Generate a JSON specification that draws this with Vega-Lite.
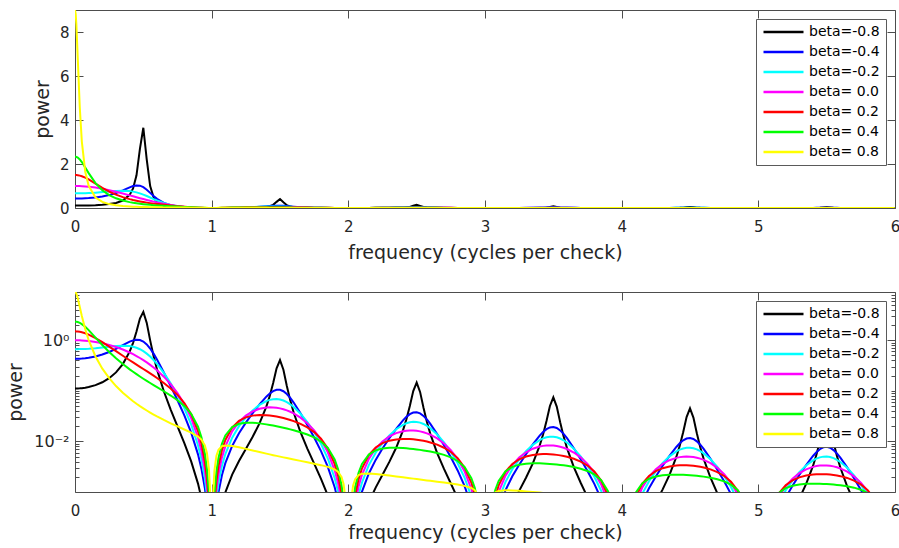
{
  "$schema": "https://vega.github.io/schema/vega-lite/v6.json",
  "background": "white",
  "padding": {"left": 6, "top": 6, "right": 0, "bottom": 0},
  "autosize": {"type": "pad"},
  "bounds": "flush",
  "spacing": 84,
  "config": {
    "font": "DejaVu Sans",
    "view": {"stroke": "#4d4d4d", "strokeWidth": 1},
    "axis": {
      "labelFont": "DejaVu Sans", "labelFontSize": 15, "labelColor": "#262626",
      "titleFont": "DejaVu Sans", "titleFontSize": 19, "titleFontWeight": "normal", "titleColor": "#262626",
      "tickColor": "#4d4d4d", "tickWidth": 1, "domain": false, "grid": false,
      "labelOverlap": false, "labelFlush": false, "labelBound": false
    },
    "legend": {
      "orient": "top-right", "offset": 9, "title": null,
      "symbolType": "stroke", "symbolSize": 1600, "symbolStrokeWidth": 2.5,
      "labelFont": "DejaVu Sans", "labelFontSize": 14, "labelColor": "#000000",
      "fillColor": "white", "strokeColor": "#5a5a5a", "padding": 6, "rowPadding": 6, "labelOffset": 4,
      "clipHeight": 14
    }
  },
  "data": {"values": [
    {"f":0,"bm08":0.11111,"bm04":0.42857,"bm02":0.66667,"b00":1,"bp02":1.5,"bp04":2.3333,"bp08":9},
    {"f":0.005,"bm08":0.11113,"bm04":0.42863,"bm02":0.6667,"b00":0.99992,"bp02":1.4994,"bp04":2.3306,"bp08":8.8251},
    {"f":0.01,"bm08":0.11118,"bm04":0.42878,"bm02":0.66682,"b00":0.99967,"bp02":1.4977,"bp04":2.3224,"bp08":8.3389},
    {"f":0.02,"bm08":0.1114,"bm04":0.42939,"bm02":0.66725,"b00":0.99869,"bp02":1.4907,"bp04":2.2901,"bp08":6.833},
    {"f":0.035,"bm08":0.112,"bm04":0.43109,"bm02":0.66847,"b00":0.99599,"bp02":1.4718,"bp04":2.2059,"bp08":4.5657},
    {"f":0.05,"bm08":0.11293,"bm04":0.43372,"bm02":0.67032,"b00":0.9918,"bp02":1.4435,"bp04":2.0872,"bp08":3.0179},
    {"f":0.075,"bm08":0.11528,"bm04":0.44029,"bm02":0.67485,"b00":0.98163,"bp02":1.3785,"bp04":1.8439,"bp08":1.6483},
    {"f":0.1,"bm08":0.1187,"bm04":0.44971,"bm02":0.68115,"b00":0.96753,"bp02":1.2965,"bp04":1.5849,"bp08":1.0079},
    {"f":0.15,"bm08":0.12948,"bm04":0.47822,"bm02":0.69876,"b00":0.92813,"bp02":1.107,"bp04":1.1303,"bp08":0.47764},
    {"f":0.2,"bm08":0.14761,"bm04":0.5224,"bm02":0.72203,"b00":0.87515,"bp02":0.9168,"bp04":0.80538,"bp08":0.27503},
    {"f":0.25,"bm08":0.17794,"bm04":0.58698,"bm02":0.74822,"b00":0.81058,"bp02":0.74822,"bp04":0.58698,"bp08":0.17794},
    {"f":0.3,"bm08":0.23156,"bm04":0.67809,"bm02":0.77191,"b00":0.73684,"bp02":0.60791,"bp04":0.43984,"bp08":0.12428},
    {"f":0.35,"bm08":0.33792,"bm04":0.79965,"bm02":0.78318,"b00":0.65664,"bp02":0.49437,"bp04":0.33834,"bp08":0.091608},
    {"f":0.4,"bm08":0.5967,"bm04":0.93829,"bm02":0.76756,"b00":0.57279,"bp02":0.40325,"bp04":0.26623,"bp08":0.070269},
    {"f":0.425,"bm08":0.89061,"bm04":0.99626,"bm02":0.74483,"b00":0.53038,"bp02":0.36463,"bp04":0.23789,"bp08":0.062284},
    {"f":0.45,"bm08":1.4853,"bm04":1.0272,"bm02":0.71043,"b00":0.48811,"bp02":0.32989,"bp04":0.21345,"bp08":0.055575},
    {"f":0.475,"bm08":2.6913,"bm04":1.0136,"bm02":0.66434,"b00":0.4463,"bp02":0.29856,"bp04":0.19224,"bp08":0.049893},
    {"f":0.5,"bm08":3.6476,"bm04":0.94566,"bm02":0.60793,"b00":0.40528,"bp02":0.27019,"bp04":0.17369,"bp08":0.045032},
    {"f":0.525,"bm08":2.2031,"bm04":0.82976,"bm02":0.54383,"b00":0.36534,"bp02":0.2444,"bp04":0.15737,"bp08":0.040842},
    {"f":0.55,"bm08":0.99426,"bm04":0.68763,"bm02":0.47558,"b00":0.32675,"bp02":0.22084,"bp04":0.14289,"bp08":0.037203},
    {"f":0.575,"bm08":0.48655,"bm04":0.54427,"bm02":0.40691,"b00":0.28975,"bp02":0.1992,"bp04":0.12996,"bp08":0.034026},
    {"f":0.6,"bm08":0.2652,"bm04":0.41702,"bm02":0.34114,"b00":0.25457,"bp02":0.17922,"bp04":0.11833,"bp08":0.031231},
    {"f":0.65,"bm08":0.097976,"bm04":0.23185,"bm02":0.22708,"b00":0.19039,"bp02":0.14334,"bp04":0.098099,"bp08":0.026561},
    {"f":0.7,"bm08":0.042531,"bm04":0.12455,"bm02":0.14178,"b00":0.13534,"bp02":0.11166,"bp04":0.080788,"bp08":0.022827},
    {"f":0.75,"bm08":0.019771,"bm04":0.06522,"bm02":0.083136,"b00":0.090064,"bp02":0.083136,"bp04":0.06522,"bp08":0.019771},
    {"f":0.8,"bm08":0.0092255,"bm04":0.03265,"bm02":0.045127,"b00":0.054697,"bp02":0.0573,"bp04":0.050336,"bp08":0.017189},
    {"f":0.85,"bm08":0.0040324,"bm04":0.014893,"bm02":0.021761,"b00":0.028904,"bp02":0.034475,"bp04":0.035198,"bp08":0.014875},
    {"f":0.9,"bm08":0.0014654,"bm04":0.005552,"bm02":0.0084093,"b00":0.011945,"bp02":0.016006,"bp04":0.019567,"bp08":0.012443},
    {"f":0.925,"bm08":7.5783e-4,"bm04":0.0028945,"bm02":0.0044366,"b00":0.0064534,"bp02":0.0090627,"bp04":0.012122,"bp08":0.010837},
    {"f":0.95,"bm08":3.1282e-4,"bm04":0.0012014,"bm02":0.0018569,"b00":0.0027474,"bp02":0.0039988,"bp04":0.0057817,"bp08":0.0083599},
    {"f":0.965,"bm08":1.4733e-4,"bm04":5.6708e-4,"bm02":8.7935e-4,"b00":0.0013102,"bp02":0.0019362,"bp04":0.0029019,"bp08":0.0060059},
    {"f":0.98,"bm08":4.6395e-5,"bm04":1.7883e-4,"bm02":2.779e-4,"b00":4.1594e-4,"bp02":6.2086e-4,"bp04":9.5382e-4,"bp08":0.0028459},
    {"f":0.99,"bm08":1.1344e-5,"bm04":4.3747e-5,"bm02":6.8035e-5,"b00":1.02e-4,"bp02":1.5281e-4,"bp04":2.3696e-4,"bp08":8.5082e-4},
    {"f":0.997,"bm08":1.0e-6,"bm04":3.9e-6,"bm02":6.0e-6,"b00":9.1e-6,"bp02":1.36e-5,"bp04":2.1e-5,"bp08":8.1e-5},
    {"f":1.003,"bm08":1.0e-6,"bm04":3.8e-6,"bm02":6.0e-6,"b00":8.9e-6,"bp02":1.34e-5,"bp04":2.1e-5,"bp08":8.0e-5},
    {"f":1.01,"bm08":1.0899e-5,"bm04":4.2032e-5,"bm02":6.5367e-5,"b00":9.7997e-5,"bp02":1.4682e-4,"bp04":2.2766e-4,"bp08":8.1746e-4},
    {"f":1.02,"bm08":4.2827e-5,"bm04":1.6508e-4,"bm02":2.5654e-4,"b00":3.8396e-4,"bp02":5.7312e-4,"bp04":8.8048e-4,"bp08":0.0026271},
    {"f":1.035,"bm08":1.2808e-4,"bm04":4.9297e-4,"bm02":7.6442e-4,"b00":0.001139,"bp02":0.0016831,"bp04":0.0025226,"bp08":0.005221},
    {"f":1.05,"bm08":2.5607e-4,"bm04":9.8349e-4,"bm02":0.00152,"b00":0.002249,"bp02":0.0032734,"bp04":0.0047329,"bp08":0.0068434},
    {"f":1.075,"bm08":5.611e-4,"bm04":0.0021431,"bm02":0.0032849,"b00":0.0047781,"bp02":0.0067101,"bp04":0.0089752,"bp08":0.0080234},
    {"f":1.1,"bm08":9.8099e-4,"bm04":0.0037166,"bm02":0.0056294,"b00":0.0079961,"bp02":0.010715,"bp04":0.013098,"bp08":0.0083298},
    {"f":1.15,"bm08":0.002203,"bm04":0.0081361,"bm02":0.011888,"b00":0.015791,"bp02":0.018834,"bp04":0.01923,"bp08":0.0081263},
    {"f":1.2,"bm08":0.0041002,"bm04":0.014511,"bm02":0.020056,"b00":0.02431,"bp02":0.025467,"bp04":0.022372,"bp08":0.0076396},
    {"f":1.25,"bm08":0.0071174,"bm04":0.023479,"bm02":0.029929,"b00":0.032423,"bp02":0.029929,"bp04":0.023479,"bp08":0.0071174},
    {"f":1.3,"bm08":0.012331,"bm04":0.036111,"bm02":0.041108,"b00":0.03924,"bp02":0.032374,"bp04":0.023424,"bp08":0.0066183},
    {"f":1.35,"bm08":0.022714,"bm04":0.053749,"bm02":0.052642,"b00":0.044136,"bp02":0.033229,"bp04":0.022742,"bp08":0.0061575},
    {"f":1.4,"bm08":0.04871,"bm04":0.076595,"bm02":0.062658,"b00":0.046758,"bp02":0.032918,"bp04":0.021733,"bp08":0.0057362},
    {"f":1.425,"bm08":0.07922,"bm04":0.088617,"bm02":0.066253,"b00":0.047178,"bp02":0.032434,"bp04":0.02116,"bp08":0.0055402},
    {"f":1.45,"bm08":0.14305,"bm04":0.098934,"bm02":0.068424,"b00":0.047012,"bp02":0.031773,"bp04":0.020558,"bp08":0.0053527},
    {"f":1.475,"bm08":0.27911,"bm04":0.10512,"bm02":0.068896,"b00":0.046284,"bp02":0.030962,"bp04":0.019936,"bp08":0.0051742},
    {"f":1.5,"bm08":0.40528,"bm04":0.10507,"bm02":0.067548,"b00":0.045032,"bp02":0.030021,"bp04":0.019299,"bp08":0.0050036},
    {"f":1.525,"bm08":0.2611,"bm04":0.09834,"bm02":0.064452,"b00":0.043299,"bp02":0.028965,"bp04":0.018651,"bp08":0.0048404},
    {"f":1.55,"bm08":0.12519,"bm04":0.08658,"bm02":0.05988,"b00":0.041141,"bp02":0.027806,"bp04":0.017991,"bp08":0.0046843},
    {"f":1.575,"bm08":0.064849,"bm04":0.072542,"bm02":0.054234,"b00":0.038619,"bp02":0.02655,"bp04":0.017322,"bp08":0.0045351},
    {"f":1.6,"bm08":0.037294,"bm04":0.058643,"bm02":0.047973,"b00":0.035799,"bp02":0.025203,"bp04":0.016639,"bp08":0.0043918},
    {"f":1.65,"bm08":0.015205,"bm04":0.035981,"bm02":0.03524,"b00":0.029546,"bp02":0.022244,"bp04":0.015224,"bp08":0.004122},
    {"f":1.7,"bm08":0.0072111,"bm04":0.021117,"bm02":0.024039,"b00":0.022947,"bp02":0.018932,"bp04":0.013698,"bp08":0.0038703},
    {"f":1.75,"bm08":0.0036314,"bm04":0.011979,"bm02":0.01527,"b00":0.016542,"bp02":0.01527,"bp04":0.011979,"bp08":0.0036314},
    {"f":1.8,"bm08":0.0018223,"bm04":0.0064494,"bm02":0.0089139,"b00":0.010804,"bp02":0.011319,"bp04":0.0099429,"bp08":0.0033954},
    {"f":1.85,"bm08":8.5125e-4,"bm04":0.0031439,"bm02":0.0045937,"b00":0.0061017,"bp02":0.0072777,"bp04":0.0074305,"bp08":0.0031401},
    {"f":1.9,"bm08":3.2881e-4,"bm04":0.0012457,"bm02":0.0018868,"b00":0.0026801,"bp02":0.0035914,"bp04":0.0043903,"bp08":0.002792},
    {"f":1.925,"bm08":1.7498e-4,"bm04":6.6834e-4,"bm02":0.0010244,"b00":0.0014901,"bp02":0.0020926,"bp04":0.002799,"bp08":0.0025021},
    {"f":1.95,"bm08":7.4246e-5,"bm04":2.8515e-4,"bm02":4.4071e-4,"b00":6.5207e-4,"bp02":9.4909e-4,"bp04":0.0013723,"bp08":0.0019842},
    {"f":1.965,"bm08":3.5533e-5,"bm04":1.3677e-4,"bm02":2.1207e-4,"b00":3.1599e-4,"bp02":4.6695e-4,"bp04":6.9985e-4,"bp08":0.0014485},
    {"f":1.98,"bm08":1.1366e-5,"bm04":4.3809e-5,"bm02":6.808e-5,"b00":1.019e-4,"bp02":1.5209e-4,"bp04":2.3366e-4,"bp08":6.9718e-4},
    {"f":1.99,"bm08":2.8075e-6,"bm04":1.0827e-5,"bm02":1.6838e-5,"b00":2.5244e-5,"bp02":3.782e-5,"bp04":5.8645e-5,"bp08":2.1057e-4},
    {"f":1.997,"bm08":2.5e-7,"bm04":9.7e-7,"bm02":1.5e-6,"b00":2.3e-6,"bp02":3.4e-6,"bp04":5.3e-6,"bp08":2.0e-5},
    {"f":2.003,"bm08":2.5e-7,"bm04":9.6e-7,"bm02":1.5e-6,"b00":2.2e-6,"bp02":3.4e-6,"bp04":5.2e-6,"bp08":2.0e-5},
    {"f":2.01,"bm08":2.7519e-6,"bm04":1.0613e-5,"bm02":1.6505e-5,"b00":2.4744e-5,"bp02":3.7071e-5,"bp04":5.7484e-5,"bp08":2.064e-4},
    {"f":2.02,"bm08":1.092e-5,"bm04":4.2091e-5,"bm02":6.541e-5,"b00":9.79e-5,"bp02":1.4613e-4,"bp04":2.245e-4,"bp08":6.6984e-4},
    {"f":2.035,"bm08":3.313e-5,"bm04":1.2752e-4,"bm02":1.9773e-4,"b00":2.9462e-4,"bp02":4.3537e-4,"bp04":6.5253e-4,"bp08":0.0013505},
    {"f":2.05,"bm08":6.7179e-5,"bm04":2.5801e-4,"bm02":3.9876e-4,"b00":5.9001e-4,"bp02":8.5875e-4,"bp04":0.0012416,"bp08":0.0017953},
    {"f":2.075,"bm08":1.506e-4,"bm04":5.752e-4,"bm02":8.8166e-4,"b00":0.0012824,"bp02":0.001801,"bp04":0.0024089,"bp08":0.0021535},
    {"f":2.1,"bm08":2.6916e-4,"bm04":0.0010197,"bm02":0.0015445,"b00":0.0021939,"bp02":0.0029399,"bp04":0.0035939,"bp08":0.0022855},
    {"f":2.15,"bm08":6.3027e-4,"bm04":0.0023277,"bm02":0.0034012,"b00":0.0045177,"bp02":0.0053884,"bp04":0.0055016,"bp08":0.0023249},
    {"f":2.2,"bm08":0.0012199,"bm04":0.0043174,"bm02":0.0059672,"b00":0.0072327,"bp02":0.0075769,"bp04":0.006656,"bp08":0.0022729},
    {"f":2.25,"bm08":0.0021967,"bm04":0.0072466,"bm02":0.0092373,"b00":0.010007,"bp02":0.0092373,"bp04":0.0072466,"bp08":0.0021967},
    {"f":2.3,"bm08":0.0039395,"bm04":0.011537,"bm02":0.013133,"b00":0.012536,"bp02":0.010343,"bp04":0.0074832,"bp08":0.0021144},
    {"f":2.35,"bm08":0.0074957,"bm04":0.017738,"bm02":0.017373,"b00":0.014566,"bp02":0.010966,"bp04":0.0075051,"bp08":0.0020321},
    {"f":2.4,"bm08":0.016575,"bm04":0.026064,"bm02":0.021321,"b00":0.015911,"bp02":0.011202,"bp04":0.0073953,"bp08":0.0019519},
    {"f":2.425,"bm08":0.027355,"bm04":0.0306,"bm02":0.022878,"b00":0.016291,"bp02":0.0112,"bp04":0.0073069,"bp08":0.0019131},
    {"f":2.45,"bm08":0.050106,"bm04":0.034653,"bm02":0.023967,"b00":0.016467,"bp02":0.011129,"bp04":0.007201,"bp08":0.0018749},
    {"f":2.475,"bm08":0.099128,"bm04":0.037335,"bm02":0.02447,"b00":0.016438,"bp02":0.010997,"bp04":0.0070807,"bp08":0.0018377},
    {"f":2.5,"bm08":0.1459,"bm04":0.037827,"bm02":0.024317,"b00":0.016211,"bp02":0.010808,"bp04":0.0069477,"bp08":0.0018013},
    {"f":2.525,"bm08":0.095243,"bm04":0.035871,"bm02":0.02351,"b00":0.015794,"bp02":0.010566,"bp04":0.0068032,"bp08":0.0017656},
    {"f":2.55,"bm08":0.046254,"bm04":0.031989,"bm02":0.022124,"b00":0.015201,"bp02":0.010273,"bp04":0.0066473,"bp08":0.0017307},
    {"f":2.575,"bm08":0.024261,"bm04":0.027139,"bm02":0.02029,"b00":0.014448,"bp02":0.0099328,"bp04":0.0064804,"bp08":0.0016967},
    {"f":2.6,"bm08":0.014123,"bm04":0.022208,"bm02":0.018167,"b00":0.013557,"bp02":0.0095444,"bp04":0.0063013,"bp08":0.0016632},
    {"f":2.65,"bm08":0.0058946,"bm04":0.013949,"bm02":0.013662,"b00":0.011454,"bp02":0.0086237,"bp04":0.005902,"bp08":0.001598},
    {"f":2.7,"bm08":0.0028587,"bm04":0.0083713,"bm02":0.0095297,"b00":0.0090968,"bp02":0.0075051,"bp04":0.0054302,"bp08":0.0015343},
    {"f":2.75,"bm08":0.0014706,"bm04":0.004851,"bm02":0.0061837,"b00":0.006699,"bp02":0.0061837,"bp04":0.004851,"bp08":0.0014706},
    {"f":2.8,"bm08":7.531e-4,"bm04":0.0026653,"bm02":0.0036838,"b00":0.004465,"bp02":0.0046776,"bp04":0.0041091,"bp08":0.0014032},
    {"f":2.85,"bm08":3.5868e-4,"bm04":0.0013247,"bm02":0.0019356,"b00":0.002571,"bp02":0.0030666,"bp04":0.003131,"bp08":0.0013231},
    {"f":2.9,"bm08":1.4114e-4,"bm04":5.3473e-4,"bm02":8.0993e-4,"b00":0.0011505,"bp02":0.0015416,"bp04":0.0018845,"bp08":0.0011985},
    {"f":2.925,"bm08":7.5789e-5,"bm04":2.8947e-4,"bm02":4.437e-4,"b00":6.4539e-4,"bp02":9.0634e-4,"bp04":0.0012123,"bp08":0.0010837},
    {"f":2.95,"bm08":3.2441e-5,"bm04":1.246e-4,"bm02":1.9257e-4,"b00":2.8492e-4,"bp02":4.147e-4,"bp04":5.996e-4,"bp08":8.6697e-4},
    {"f":2.965,"bm08":1.5607e-5,"bm04":6.0069e-5,"bm02":9.3146e-5,"b00":1.3879e-4,"bp02":2.0509e-4,"bp04":3.0739e-4,"bp08":6.3619e-4},
    {"f":2.98,"bm08":5.0176e-6,"bm04":1.934e-5,"bm02":3.0055e-5,"b00":4.4983e-5,"bp02":6.7145e-5,"bp04":1.0316e-4,"bp08":3.0778e-4},
    {"f":2.99,"bm08":1.2436e-6,"bm04":4.796e-6,"bm02":7.4587e-6,"b00":1.1182e-5,"bp02":1.6753e-5,"bp04":2.5977e-5,"bp08":9.3276e-5},
    {"f":2.997,"bm08":1.1e-7,"bm04":4.3e-7,"bm02":6.7e-7,"b00":1.0e-6,"bp02":1.5e-6,"bp04":2.3e-6,"bp08":9.0e-6},
    {"f":3.003,"bm08":1.1e-7,"bm04":4.3e-7,"bm02":6.7e-7,"b00":1.0e-6,"bp02":1.5e-6,"bp04":2.3e-6,"bp08":8.9e-6},
    {"f":3.01,"bm08":1.2271e-6,"bm04":4.7325e-6,"bm02":7.3598e-6,"b00":1.1034e-5,"bp02":1.6531e-5,"bp04":2.5633e-5,"bp08":9.204e-5},
    {"f":3.02,"bm08":4.8855e-6,"bm04":1.8831e-5,"bm02":2.9264e-5,"b00":4.3799e-5,"bp02":6.5377e-5,"bp04":1.0044e-4,"bp08":2.9968e-4},
    {"f":3.035,"bm08":1.4895e-5,"bm04":5.733e-5,"bm02":8.8899e-5,"b00":1.3246e-4,"bp02":1.9574e-4,"bp04":2.9337e-4,"bp08":6.0718e-4},
    {"f":3.05,"bm08":3.0349e-5,"bm04":1.1656e-4,"bm02":1.8015e-4,"b00":2.6654e-4,"bp02":3.8795e-4,"bp04":5.6092e-4,"bp08":8.1105e-4},
    {"f":3.075,"bm08":6.8576e-5,"bm04":2.6192e-4,"bm02":4.0147e-4,"b00":5.8396e-4,"bp02":8.2008e-4,"bp04":0.0010969,"bp08":9.8059e-4},
    {"f":3.1,"bm08":1.2352e-4,"bm04":4.6796e-4,"bm02":7.0879e-4,"b00":0.0010068,"bp02":0.0013491,"bp04":0.0016492,"bp08":0.0010488},
    {"f":3.15,"bm08":2.9362e-4,"bm04":0.0010844,"bm02":0.0015845,"b00":0.0021046,"bp02":0.0025103,"bp04":0.002563,"bp08":0.0010831},
    {"f":3.2,"bm08":5.7659e-4,"bm04":0.0020406,"bm02":0.0028204,"b00":0.0034185,"bp02":0.0035812,"bp04":0.003146,"bp08":0.0010743},
    {"f":3.25,"bm08":0.0010529,"bm04":0.0034732,"bm02":0.0044274,"b00":0.0047963,"bp02":0.0044274,"bp04":0.0034732,"bp08":0.0010529},
    {"f":3.3,"bm08":0.0019137,"bm04":0.005604,"bm02":0.0063794,"b00":0.0060896,"bp02":0.005024,"bp04":0.0036351,"bp08":0.0010271},
    {"f":3.35,"bm08":0.0036886,"bm04":0.0087287,"bm02":0.0085489,"b00":0.0071676,"bp02":0.0053963,"bp04":0.0036932,"bp08":9.9996e-4},
    {"f":3.4,"bm08":0.0082588,"bm04":0.012987,"bm02":0.010624,"b00":0.0079278,"bp02":0.0055813,"bp04":0.0036849,"bp08":9.7258e-4},
    {"f":3.425,"bm08":0.013713,"bm04":0.01534,"bm02":0.011469,"b00":0.0081667,"bp02":0.0056145,"bp04":0.003663,"bp08":9.5903e-4},
    {"f":3.45,"bm08":0.025269,"bm04":0.017476,"bm02":0.012087,"b00":0.0083043,"bp02":0.0056125,"bp04":0.0036315,"bp08":9.4552e-4},
    {"f":3.475,"bm08":0.050286,"bm04":0.018939,"bm02":0.012413,"b00":0.0083389,"bp02":0.0055784,"bp04":0.0035919,"bp08":9.3222e-4},
    {"f":3.5,"bm08":0.07444,"bm04":0.019299,"bm02":0.012407,"b00":0.0082711,"bp02":0.0055141,"bp04":0.0035448,"bp08":9.1902e-4},
    {"f":3.525,"bm08":0.048869,"bm04":0.018406,"bm02":0.012063,"b00":0.008104,"bp02":0.0054212,"bp04":0.0034907,"bp08":9.0595e-4},
    {"f":3.55,"bm08":0.023865,"bm04":0.016505,"bm02":0.011415,"b00":0.007843,"bp02":0.0053007,"bp04":0.0034298,"bp08":8.9299e-4},
    {"f":3.575,"bm08":0.012587,"bm04":0.01408,"bm02":0.010526,"b00":0.0074957,"bp02":0.0051532,"bp04":0.003362,"bp08":8.8023e-4},
    {"f":3.6,"bm08":0.0073666,"bm04":0.011584,"bm02":0.009476,"b00":0.0070714,"bp02":0.0049784,"bp04":0.0032868,"bp08":8.6751e-4},
    {"f":3.65,"bm08":0.0031072,"bm04":0.0073528,"bm02":0.0072014,"b00":0.0060378,"bp02":0.0045457,"bp04":0.0031111,"bp08":8.4233e-4},
    {"f":3.7,"bm08":0.0015223,"bm04":0.0044578,"bm02":0.0050747,"b00":0.0048441,"bp02":0.0039965,"bp04":0.0028916,"bp08":8.1702e-4},
    {"f":3.75,"bm08":7.9083e-4,"bm04":0.0026088,"bm02":0.0033254,"b00":0.0036025,"bp02":0.0033254,"bp04":0.0026088,"bp08":7.9083e-4},
    {"f":3.8,"bm08":4.0888e-4,"bm04":0.0014471,"bm02":0.0020001,"b00":0.0024242,"bp02":0.0025396,"bp04":0.002231,"bp08":7.6184e-4},
    {"f":3.85,"bm08":1.9655e-4,"bm04":7.2592e-4,"bm02":0.0010607,"b00":0.0014089,"bp02":0.0016804,"bp04":0.0017157,"bp08":7.2505e-4},
    {"f":3.9,"bm08":7.804e-5,"bm04":2.9566e-4,"bm02":4.4783e-4,"b00":6.3611e-4,"bp02":8.524e-4,"bp04":0.001042,"bp08":6.6265e-4},
    {"f":3.925,"bm08":4.209e-5,"bm04":1.6076e-4,"bm02":2.4641e-4,"b00":3.5842e-4,"bp02":5.0334e-4,"bp04":6.7326e-4,"bp08":6.0186e-4},
    {"f":3.95,"bm08":1.8094e-5,"bm04":6.9495e-5,"bm02":1.0741e-4,"b00":1.5892e-4,"bp02":2.313e-4,"bp04":3.3443e-4,"bp08":4.8356e-4},
    {"f":3.965,"bm08":8.727e-6,"bm04":3.359e-5,"bm02":5.2087e-5,"b00":7.7608e-5,"bp02":1.1468e-4,"bp04":1.7189e-4,"bp08":3.5575e-4},
    {"f":3.98,"bm08":2.813e-6,"bm04":1.0843e-5,"bm02":1.6849e-5,"b00":2.5219e-5,"bp02":3.7643e-5,"bp04":5.783e-5,"bp08":1.7255e-4},
    {"f":3.99,"bm08":6.9837e-7,"bm04":2.6933e-6,"bm02":4.1885e-6,"b00":6.2794e-6,"bp02":9.4077e-6,"bp04":1.4588e-5,"bp08":5.238e-5},
    {"f":3.997,"bm08":6.3e-8,"bm04":2.4e-7,"bm02":3.8e-7,"b00":5.6e-7,"bp02":8.5e-7,"bp04":1.3e-6,"bp08":5.0e-6},
    {"f":4.003,"bm08":6.2e-8,"bm04":2.4e-7,"bm02":3.7e-7,"b00":5.6e-7,"bp02":8.4e-7,"bp04":1.3e-6,"bp08":5.0e-6},
    {"f":4.01,"bm08":6.9142e-7,"bm04":2.6665e-6,"bm02":4.1468e-6,"b00":6.2169e-6,"bp02":9.314e-6,"bp04":1.4443e-5,"bp08":5.1859e-5},
    {"f":4.02,"bm08":2.7573e-6,"bm04":1.0628e-5,"bm02":1.6516e-5,"b00":2.4719e-5,"bp02":3.6897e-5,"bp04":5.6685e-5,"bp08":1.6913e-4},
    {"f":4.035,"bm08":8.4268e-6,"bm04":3.2435e-5,"bm02":5.0295e-5,"b00":7.4939e-5,"bp02":1.1074e-4,"bp04":1.6597e-4,"bp08":3.4352e-4},
    {"f":4.05,"bm08":1.7212e-5,"bm04":6.6105e-5,"bm02":1.0217e-4,"b00":1.5117e-4,"bp02":2.2002e-4,"bp04":3.1812e-4,"bp08":4.5998e-4},
    {"f":4.075,"bm08":3.9049e-5,"bm04":1.4914e-4,"bm02":2.2861e-4,"b00":3.3252e-4,"bp02":4.6697e-4,"bp04":6.2461e-4,"bp08":5.5837e-4},
    {"f":4.1,"bm08":7.0612e-5,"bm04":2.6752e-4,"bm02":4.052e-4,"b00":5.7556e-4,"bp02":7.7126e-4,"bp04":9.4283e-4,"bp08":5.9958e-4},
    {"f":4.15,"bm08":1.6916e-4,"bm04":6.2477e-4,"bm02":9.1288e-4,"b00":0.0012126,"bp02":0.0014463,"bp04":0.0014766,"bp08":6.2401e-4},
    {"f":4.2,"bm08":3.3471e-4,"bm04":0.0011846,"bm02":0.0016372,"b00":0.0019845,"bp02":0.0020789,"bp04":0.0018262,"bp08":6.2363e-4},
    {"f":4.25,"bm08":6.1569e-4,"bm04":0.0020311,"bm02":0.002589,"b00":0.0028047,"bp02":0.002589,"bp04":0.0020311,"bp08":6.1569e-4},
    {"f":4.3,"bm08":0.0011271,"bm04":0.0033006,"bm02":0.0037573,"b00":0.0035866,"bp02":0.002959,"bp04":0.0021409,"bp08":6.0492e-4},
    {"f":4.35,"bm08":0.0021876,"bm04":0.0051767,"bm02":0.0050701,"b00":0.0042509,"bp02":0.0032004,"bp04":0.0021904,"bp08":5.9305e-4},
    {"f":4.4,"bm08":0.0049314,"bm04":0.0077545,"bm02":0.0063435,"b00":0.0047338,"bp02":0.0033327,"bp04":0.0022003,"bp08":5.8074e-4},
    {"f":4.425,"bm08":0.0082156,"bm04":0.0091902,"bm02":0.0068708,"b00":0.0048926,"bp02":0.0033636,"bp04":0.0021945,"bp08":5.7455e-4},
    {"f":4.45,"bm08":0.015188,"bm04":0.010504,"bm02":0.0072649,"b00":0.0049914,"bp02":0.0033735,"bp04":0.0021828,"bp08":5.6832e-4},
    {"f":4.475,"bm08":0.030323,"bm04":0.011421,"bm02":0.007485,"b00":0.0050284,"bp02":0.0033638,"bp04":0.0021659,"bp08":5.6213e-4},
    {"f":4.5,"bm08":0.045032,"bm04":0.011675,"bm02":0.0075053,"b00":0.0050035,"bp02":0.0033357,"bp04":0.0021444,"bp08":5.5596e-4},
    {"f":4.525,"bm08":0.029656,"bm04":0.01117,"bm02":0.0073206,"b00":0.0049179,"bp02":0.0032899,"bp04":0.0021183,"bp08":5.4978e-4},
    {"f":4.55,"bm08":0.014528,"bm04":0.010047,"bm02":0.006949,"b00":0.0047744,"bp02":0.0032268,"bp04":0.0020878,"bp08":5.436e-4},
    {"f":4.575,"bm08":0.0076857,"bm04":0.0085974,"bm02":0.0064277,"b00":0.004577,"bp02":0.0031466,"bp04":0.0020529,"bp08":5.3749e-4},
    {"f":4.6,"bm08":0.0045119,"bm04":0.0070948,"bm02":0.0058039,"b00":0.0043311,"bp02":0.0030492,"bp04":0.0020131,"bp08":5.3133e-4},
    {"f":4.65,"bm08":0.0019144,"bm04":0.0045303,"bm02":0.004437,"b00":0.0037201,"bp02":0.0028008,"bp04":0.0019168,"bp08":5.19e-4},
    {"f":4.7,"bm08":9.4341e-4,"bm04":0.0027627,"bm02":0.0031449,"b00":0.0030021,"bp02":0.0024768,"bp04":0.001792,"bp08":5.0634e-4},
    {"f":4.75,"bm08":4.9289e-4,"bm04":0.001626,"bm02":0.0020726,"b00":0.0022453,"bp02":0.0020726,"bp04":0.001626,"bp08":4.9289e-4},
    {"f":4.8,"bm08":2.5626e-4,"bm04":9.0695e-4,"bm02":0.0012535,"b00":0.0015194,"bp02":0.0015917,"bp04":0.0013982,"bp08":4.7748e-4},
    {"f":4.85,"bm08":1.2385e-4,"bm04":4.5743e-4,"bm02":6.6837e-4,"b00":8.8778e-4,"bp02":0.0010589,"bp04":0.0010811,"bp08":4.5688e-4},
    {"f":4.9,"bm08":4.9437e-5,"bm04":1.873e-4,"bm02":2.8369e-4,"b00":4.0297e-4,"bp02":5.3998e-4,"bp04":6.6009e-4,"bp08":4.1978e-4},
    {"f":4.925,"bm08":2.6733e-5,"bm04":1.0211e-4,"bm02":1.5651e-4,"b00":2.2765e-4,"bp02":3.1969e-4,"bp04":4.2762e-4,"bp08":3.8227e-4},
    {"f":4.95,"bm08":1.1522e-5,"bm04":4.4252e-5,"bm02":6.8393e-5,"b00":1.0119e-4,"bp02":1.4729e-4,"bp04":2.1296e-4,"bp08":3.0792e-4},
    {"f":4.965,"bm08":5.5657e-6,"bm04":2.1422e-5,"bm02":3.3218e-5,"b00":4.9495e-5,"bp02":7.3141e-5,"bp04":1.0962e-4,"bp08":2.2688e-4},
    {"f":4.98,"bm08":1.7966e-6,"bm04":6.9253e-6,"bm02":1.0762e-5,"b00":1.6107e-5,"bp02":2.4043e-5,"bp04":3.6937e-5,"bp08":1.1021e-4},
    {"f":4.99,"bm08":4.465e-7,"bm04":1.7219e-6,"bm02":2.6779e-6,"b00":4.0147e-6,"bp02":6.0148e-6,"bp04":9.3268e-6,"bp08":3.3489e-5},
    {"f":4.997,"bm08":4.0e-8,"bm04":1.5e-7,"bm02":2.4e-7,"b00":3.6e-7,"bp02":5.4e-7,"bp04":8.4e-7,"bp08":3.2e-6},
    {"f":5.003,"bm08":4.0e-8,"bm04":1.5e-7,"bm02":2.4e-7,"b00":3.6e-7,"bp02":5.4e-7,"bp04":8.4e-7,"bp08":3.2e-6},
    {"f":5.01,"bm08":4.4294e-7,"bm04":1.7082e-6,"bm02":2.6566e-6,"b00":3.9827e-6,"bp02":5.9668e-6,"bp04":9.2524e-6,"bp08":3.3222e-5},
    {"f":5.02,"bm08":1.7682e-6,"bm04":6.8155e-6,"bm02":1.0591e-5,"b00":1.5852e-5,"bp02":2.3661e-5,"bp04":3.6351e-5,"bp08":1.0846e-4},
    {"f":5.035,"bm08":5.412e-6,"bm04":2.0831e-5,"bm02":3.2301e-5,"b00":4.8128e-5,"bp02":7.1121e-5,"bp04":1.066e-4,"bp08":2.2062e-4},
    {"f":5.05,"bm08":1.107e-5,"bm04":4.2518e-5,"bm02":6.5712e-5,"b00":9.7226e-5,"bp02":1.4151e-4,"bp04":2.0461e-4,"bp08":2.9585e-4},
    {"f":5.075,"bm08":2.5176e-5,"bm04":9.6157e-5,"bm02":1.4739e-4,"b00":2.1439e-4,"bp02":3.0107e-4,"bp04":4.027e-4,"bp08":3.5999e-4},
    {"f":5.1,"bm08":4.5637e-5,"bm04":1.729e-4,"bm02":2.6188e-4,"b00":3.7199e-4,"bp02":4.9847e-4,"bp04":6.0935e-4,"bp08":3.8751e-4},
    {"f":5.15,"bm08":1.0985e-4,"bm04":4.057e-4,"bm02":5.9278e-4,"b00":7.8737e-4,"bp02":9.3913e-4,"bp04":9.5885e-4,"bp08":4.052e-4},
    {"f":5.2,"bm08":2.1835e-4,"bm04":7.7278e-4,"bm02":0.0010681,"b00":0.0012946,"bp02":0.0013562,"bp04":0.0011914,"bp08":4.0684e-4},
    {"f":5.25,"bm08":4.0348e-4,"bm04":0.001331,"bm02":0.0016966,"b00":0.001838,"bp02":0.0016966,"bp04":0.001331,"bp08":4.0348e-4},
    {"f":5.3,"bm08":7.419e-4,"bm04":0.0021726,"bm02":0.0024732,"b00":0.0023608,"bp02":0.0019477,"bp04":0.0014093,"bp08":3.9819e-4},
    {"f":5.35,"bm08":0.0014462,"bm04":0.0034223,"bm02":0.0033518,"b00":0.0028103,"bp02":0.0021158,"bp04":0.001448,"bp08":3.9206e-4},
    {"f":5.4,"bm08":0.0032741,"bm04":0.0051484,"bm02":0.0042116,"b00":0.0031429,"bp02":0.0022126,"bp04":0.0014608,"bp08":3.8557e-4},
    {"f":5.425,"bm08":0.0054659,"bm04":0.0061143,"bm02":0.0045712,"b00":0.0032551,"bp02":0.0022378,"bp04":0.00146,"bp08":3.8225e-4},
    {"f":5.45,"bm08":0.010126,"bm04":0.007003,"bm02":0.0048434,"b00":0.0033277,"bp02":0.0022491,"bp04":0.0014552,"bp08":3.7889e-4},
    {"f":5.475,"bm08":0.020258,"bm04":0.0076297,"bm02":0.0050005,"b00":0.0033593,"bp02":0.0022473,"bp04":0.001447,"bp08":3.7555e-4},
    {"f":5.5,"bm08":0.030145,"bm04":0.0078154,"bm02":0.0050243,"b00":0.0033495,"bp02":0.002233,"bp04":0.0014355,"bp08":3.7217e-4},
    {"f":5.525,"bm08":0.019892,"bm04":0.0074921,"bm02":0.0049103,"b00":0.0032987,"bp02":0.0022067,"bp04":0.0014209,"bp08":3.6877e-4},
    {"f":5.55,"bm08":0.0097643,"bm04":0.006753,"bm02":0.0046705,"b00":0.0032089,"bp02":0.0021688,"bp04":0.0014033,"bp08":3.6536e-4},
    {"f":5.575,"bm08":0.0051757,"bm04":0.0057897,"bm02":0.0043285,"b00":0.0030823,"bp02":0.002119,"bp04":0.0013825,"bp08":3.6196e-4},
    {"f":5.6,"bm08":0.0030444,"bm04":0.0047872,"bm02":0.0039161,"b00":0.0029224,"bp02":0.0020574,"bp04":0.0013583,"bp08":3.5852e-4},
    {"f":5.65,"bm08":0.0012967,"bm04":0.0030686,"bm02":0.0030054,"b00":0.0025198,"bp02":0.0018971,"bp04":0.0012984,"bp08":3.5154e-4},
    {"f":5.7,"bm08":6.4143e-4,"bm04":0.0018784,"bm02":0.0021383,"b00":0.0020411,"bp02":0.001684,"bp04":0.0012184,"bp08":3.4426e-4},
    {"f":5.75,"bm08":3.3637e-4,"bm04":0.0011096,"bm02":0.0014144,"b00":0.0015323,"bp02":0.0014144,"bp04":0.0011096,"bp08":3.3637e-4},
    {"f":5.8,"bm08":1.7552e-4,"bm04":6.2118e-4,"bm02":8.5855e-4,"b00":0.0010406,"bp02":0.0010902,"bp04":9.5766e-4,"bp08":3.2703e-4},
    {"f":5.85,"bm08":8.5132e-5,"bm04":3.1442e-4,"bm02":4.5941e-4,"b00":6.1022e-4,"bp02":7.2784e-4,"bp04":7.4312e-4,"bp08":3.1404e-4},
    {"f":5.9,"bm08":3.4099e-5,"bm04":1.2919e-4,"bm02":1.9567e-4,"b00":2.7795e-4,"bp02":3.7245e-4,"bp04":4.5529e-4,"bp08":2.8954e-4},
    {"f":5.925,"bm08":1.847e-5,"bm04":7.0546e-5,"bm02":1.0813e-4,"b00":1.5729e-4,"bp02":2.2088e-4,"bp04":2.9545e-4,"bp08":2.6411e-4},
    {"f":5.95,"bm08":7.9747e-6,"bm04":3.0628e-5,"bm02":4.7337e-5,"b00":7.0038e-5,"bp02":1.0194e-4,"bp04":1.4739e-4,"bp08":2.1312e-4},
    {"f":5.965,"bm08":3.856e-6,"bm04":1.4842e-5,"bm02":2.3014e-5,"b00":3.4291e-5,"bp02":5.0673e-5,"bp04":7.5948e-5,"bp08":1.5719e-4},
    {"f":5.98,"bm08":1.246e-6,"bm04":4.8028e-6,"bm02":7.4637e-6,"b00":1.1171e-5,"bp02":1.6674e-5,"bp04":2.5617e-5,"bp08":7.6431e-5},
    {"f":5.99,"bm08":3.0987e-7,"bm04":1.195e-6,"bm02":1.8585e-6,"b00":2.7862e-6,"bp02":4.1743e-6,"bp04":6.4728e-6,"bp08":2.3241e-5},
    {"f":5.997,"bm08":2.8e-8,"bm04":1.1e-7,"bm02":1.7e-7,"b00":2.5e-7,"bp02":3.8e-7,"bp04":5.8e-7,"bp08":2.2e-6}
  ]},
  "transform": [
    {"fold": ["bm08", "bm04", "bm02", "b00", "bp02", "bp04", "bp08"], "as": ["series", "power"]}
  ],
  "vconcat": [
    {
      "width": 820,
      "height": 198,
      "layer": [
        {
          "mark": {"type": "line", "strokeWidth": 2, "clip": true},
          "encoding": {
            "x": {"field": "f", "type": "quantitative",
              "scale": {"domain": [0, 6], "nice": false, "zero": false},
              "axis": {"orient": "bottom", "values": [0, 1, 2, 3, 4, 5, 6], "format": "d",
                "title": "frequency (cycles per check)", "tickSize": -8, "labelPadding": 19,
                "titleX": 410, "titleY": 35, "titleBaseline": "top", "titleAlign": "center"}},
            "y": {"field": "power", "type": "quantitative",
              "scale": {"domain": [0, 9], "nice": false},
              "axis": {"orient": "left", "values": [0, 2, 4, 6, 8], "format": "d",
                "title": "power", "tickSize": -8, "labelPadding": 14,
                "titleX": -33, "titleY": 99, "titleAngle": 270, "titleBaseline": "middle", "titleAlign": "center"}},
            "color": {"field": "series", "type": "nominal",
              "scale": {"domain": ["bm08", "bm04", "bm02", "b00", "bp02", "bp04", "bp08"],
                "range": ["#000000", "#0000ff", "#00ffff", "#ff00ff", "#ff0000", "#00ff00", "#ffff00"]},
              "legend": {"labelExpr": "{'bm08':'beta=-0.8','bm04':'beta=-0.4','bm02':'beta=-0.2','b00':'beta= 0.0','bp02':'beta= 0.2','bp04':'beta= 0.4','bp08':'beta= 0.8'}[datum.value]"}}
          }
        },
        {
          "mark": {"type": "point", "opacity": 0},
          "encoding": {
            "x": {"field": "f", "type": "quantitative",
              "scale": {"domain": [0, 6], "nice": false, "zero": false},
              "axis": {"orient": "top", "values": [0, 1, 2, 3, 4, 5, 6], "labels": false, "title": null, "tickSize": -8}},
            "y": {"field": "power", "type": "quantitative",
              "scale": {"domain": [0, 9], "nice": false},
              "axis": {"orient": "right", "values": [0, 2, 4, 6, 8], "labels": false, "title": null, "tickSize": -8}}
          }
        }
      ],
      "resolve": {"axis": {"x": "independent", "y": "independent"}}
    },
    {
      "width": 820,
      "height": 200,
      "layer": [
        {
          "mark": {"type": "line", "strokeWidth": 2, "clip": true},
          "encoding": {
            "x": {"field": "f", "type": "quantitative",
              "scale": {"domain": [0, 6], "nice": false, "zero": false},
              "axis": {"orient": "bottom", "values": [0, 1, 2, 3, 4, 5, 6], "format": "d",
                "title": "frequency (cycles per check)", "tickSize": -8, "labelPadding": 19,
                "titleX": 410, "titleY": 31, "titleBaseline": "top", "titleAlign": "center"}},
            "y": {"field": "power", "type": "quantitative",
              "scale": {"type": "log", "domain": [0.001, 9], "nice": false},
              "axis": {"orient": "left",
                "values": [0.002, 0.003, 0.004, 0.005, 0.006, 0.007, 0.008, 0.009, 0.01, 0.02, 0.03, 0.04, 0.05, 0.06, 0.07, 0.08, 0.09, 0.1, 0.2, 0.3, 0.4, 0.5, 0.6, 0.7, 0.8, 0.9, 1, 2, 3, 4, 5, 6, 7, 8],
                "labelExpr": "datum.value == 1 ? '10⁰' : (datum.value == 0.01 ? '10⁻²' : '')",
                "labelFontSize": 16,
                "tickSize": {"condition": {"test": "datum.value == 1 || datum.value == 0.01", "value": -8}, "value": -4},
                "labelPadding": 14,
                "title": "power", "titleX": -59.5, "titleY": 100, "titleAngle": 270, "titleBaseline": "middle", "titleAlign": "center"}},
            "color": {"field": "series", "type": "nominal",
              "scale": {"domain": ["bm08", "bm04", "bm02", "b00", "bp02", "bp04", "bp08"],
                "range": ["#000000", "#0000ff", "#00ffff", "#ff00ff", "#ff0000", "#00ff00", "#ffff00"]},
              "legend": {"labelExpr": "{'bm08':'beta=-0.8','bm04':'beta=-0.4','bm02':'beta=-0.2','b00':'beta= 0.0','bp02':'beta= 0.2','bp04':'beta= 0.4','bp08':'beta= 0.8'}[datum.value]"}}
          }
        },
        {
          "mark": {"type": "point", "opacity": 0},
          "encoding": {
            "x": {"field": "f", "type": "quantitative",
              "scale": {"domain": [0, 6], "nice": false, "zero": false},
              "axis": {"orient": "top", "values": [0, 1, 2, 3, 4, 5, 6], "labels": false, "title": null, "tickSize": -8}},
            "y": {"field": "power", "type": "quantitative",
              "scale": {"type": "log", "domain": [0.001, 9], "nice": false},
              "axis": {"orient": "right",
                "values": [0.002, 0.003, 0.004, 0.005, 0.006, 0.007, 0.008, 0.009, 0.01, 0.02, 0.03, 0.04, 0.05, 0.06, 0.07, 0.08, 0.09, 0.1, 0.2, 0.3, 0.4, 0.5, 0.6, 0.7, 0.8, 0.9, 1, 2, 3, 4, 5, 6, 7, 8],
                "labels": false, "title": null,
                "tickSize": {"condition": {"test": "datum.value == 1 || datum.value == 0.01", "value": -8}, "value": -4}}}
          }
        }
      ],
      "resolve": {"axis": {"x": "independent", "y": "independent"}}
    }
  ],
  "resolve": {"legend": {"color": "independent"}}
}
